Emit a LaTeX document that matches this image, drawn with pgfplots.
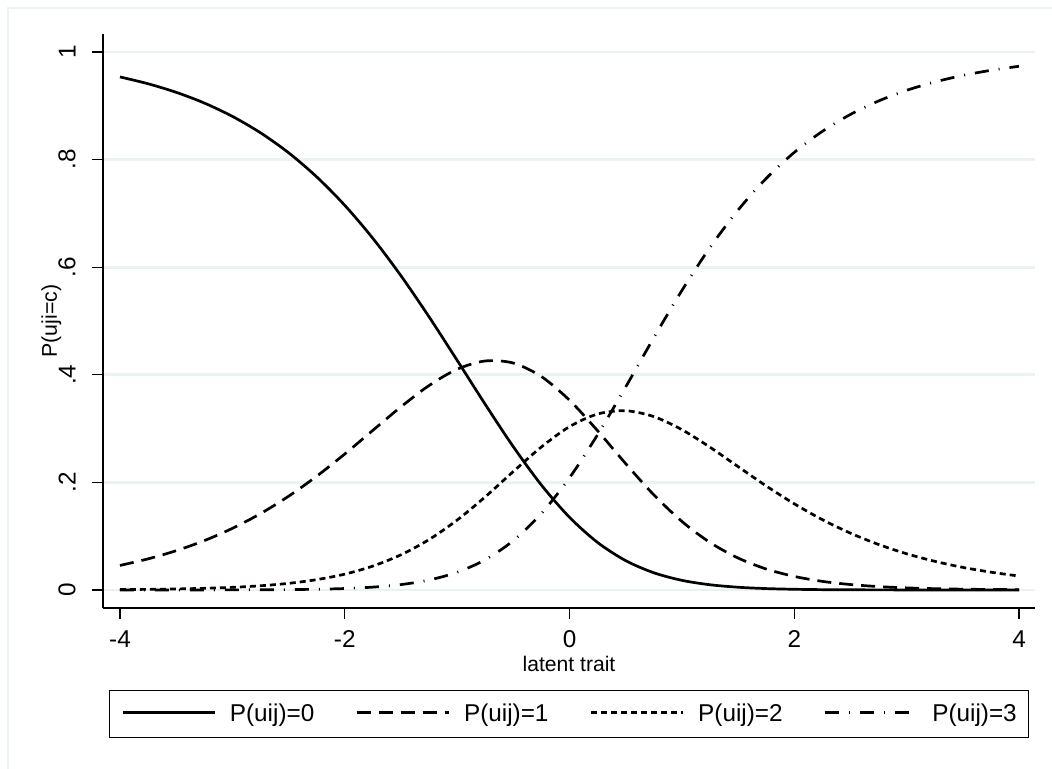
\documentclass[border=0pt]{standalone}
\usepackage{graphicx}
\usepackage{pgfplots}
\pgfplotsset{compat=1.18}
\usepackage{pgfplotstable}
\usepackage{fontspec}
\setmainfont{Liberation Sans}
\definecolor{gridc}{HTML}{EAF2F3}

\pgfplotstableread{
theta p0 p1 p2 p3
-4.00 0.9537 0.0456 0.0007 0.0000
-3.75 0.9410 0.0578 0.0012 0.0000
-3.50 0.9251 0.0730 0.0019 0.0000
-3.25 0.9052 0.0917 0.0031 0.0001
-3.00 0.8804 0.1145 0.0049 0.0002
-2.75 0.8499 0.1419 0.0078 0.0003
-2.50 0.8128 0.1742 0.0123 0.0007
-2.25 0.7680 0.2114 0.0192 0.0014
-2.00 0.7151 0.2527 0.0294 0.0027
-1.75 0.6537 0.2967 0.0444 0.0053
-1.50 0.5842 0.3404 0.0654 0.0100
-1.25 0.5078 0.3800 0.0937 0.0185
-1.00 0.4270 0.4103 0.1299 0.0329
-0.75 0.3451 0.4257 0.1731 0.0562
-0.50 0.2663 0.4218 0.2202 0.0918
-0.25 0.1950 0.3967 0.2659 0.1423
0.00 0.1351 0.3527 0.3036 0.2086
0.25 0.0883 0.2960 0.3271 0.2887
0.50 0.0545 0.2348 0.3332 0.3775
0.75 0.0320 0.1769 0.3223 0.4689
1.00 0.0179 0.1274 0.2980 0.5567
1.25 0.0097 0.0883 0.2654 0.6366
1.50 0.0051 0.0594 0.2293 0.7062
1.75 0.0026 0.0390 0.1934 0.7650
2.00 0.0013 0.0252 0.1602 0.8134
2.25 0.0006 0.0160 0.1307 0.8526
2.50 0.0003 0.0101 0.1056 0.8840
2.75 0.0002 0.0063 0.0846 0.9090
3.00 0.0001 0.0039 0.0673 0.9288
3.25 0.0000 0.0024 0.0533 0.9443
3.50 0.0000 0.0015 0.0420 0.9565
3.75 0.0000 0.0009 0.0331 0.9660
4.00 0.0000 0.0006 0.0259 0.9735
}\irt

\begin{document}
\begin{tikzpicture}
\path[use as bounding box] (-51.5bp,-80.5bp) rectangle (474.5bp,304bp);
\draw[gridc, line width=1.3bp] (-47.5bp,-81bp) -- (-47.5bp,300bp) -- (475bp,300bp);
\begin{axis}[
  scale only axis, width=466bp, height=287bp,
  xmin=-4.151, xmax=4.142, ymin=-0.0335, ymax=1.0335,
  axis x line*=bottom, axis y line*=left,
  axis line style={line width=0.7bp, black},
  tick align=outside, major tick length=5.5bp,
  tick style={line width=0.6bp, black},
  xtick={-4,-2,0,2,4}, xticklabels={-4,-2,0,2,4},
  ytick={0,0.2,0.4,0.6,0.8,1},
  yticklabels={\rotatebox{90}{0},\rotatebox{90}{.2},\rotatebox{90}{.4},\rotatebox{90}{.6},\rotatebox{90}{.8},\rotatebox{90}{1}},
  minor tick num=0,
  ymajorgrids, grid style={gridc, line width=1.4bp},
  tick label style={font=\fontsize{12.2}{14}\selectfont},
  xticklabel style={anchor=north, inner sep=0pt, yshift=-5.5bp},
  yticklabel style={anchor=east, inner sep=0pt, xshift=-8bp},
  xlabel={latent trait},
  xlabel style={at={(axis description cs:0.5,0)}, anchor=base, yshift=-31.5bp, inner sep=0pt, font=\fontsize{10.6}{12}\selectfont},
  ylabel={P(uji=c)},
  ylabel style={at={(axis description cs:-0.0494,0.5)}, anchor=base, inner sep=0pt, font=\fontsize{10.7}{12}\selectfont},
  legend columns=4,
  legend style={at={(axis description cs:0.5,0)}, anchor=north, yshift=-41bp,
    draw=black, line width=0.6bp, inner xsep=6bp, inner ysep=6.6bp,
    font=\fontsize{12.2}{14}\selectfont,
    nodes={inner sep=0pt, anchor=base west}, column sep=0pt,
    /tikz/every odd column/.append style={column sep=7bp},
    /tikz/every even column/.append style={column sep=20.5bp}},
  legend image code/.code={\draw[#1, line width=1.35bp] (0bp,4.3bp) -- (46bp,4.3bp);},
]
\addplot[black, line width=1.35bp, smooth, no markers] table[x=theta, y=p0]{\irt};
\addlegendentry{P(uij)=0}
\addplot[black, line width=1.35bp, smooth, no markers, dash pattern=on 7bp off 4bp] table[x=theta, y=p1]{\irt};
\addlegendentry{P(uij)=1}
\addplot[black, line width=1.35bp, smooth, no markers, dash pattern=on 3bp off 2bp] table[x=theta, y=p2]{\irt};
\addlegendentry{P(uij)=2}
\addplot[black, line width=1.35bp, smooth, no markers, dash pattern=on 7bp off 5bp on 0.5bp off 5bp] table[x=theta, y=p3]{\irt};
\addlegendentry{P(uij)=3}
\end{axis}
\end{tikzpicture}
\end{document}
